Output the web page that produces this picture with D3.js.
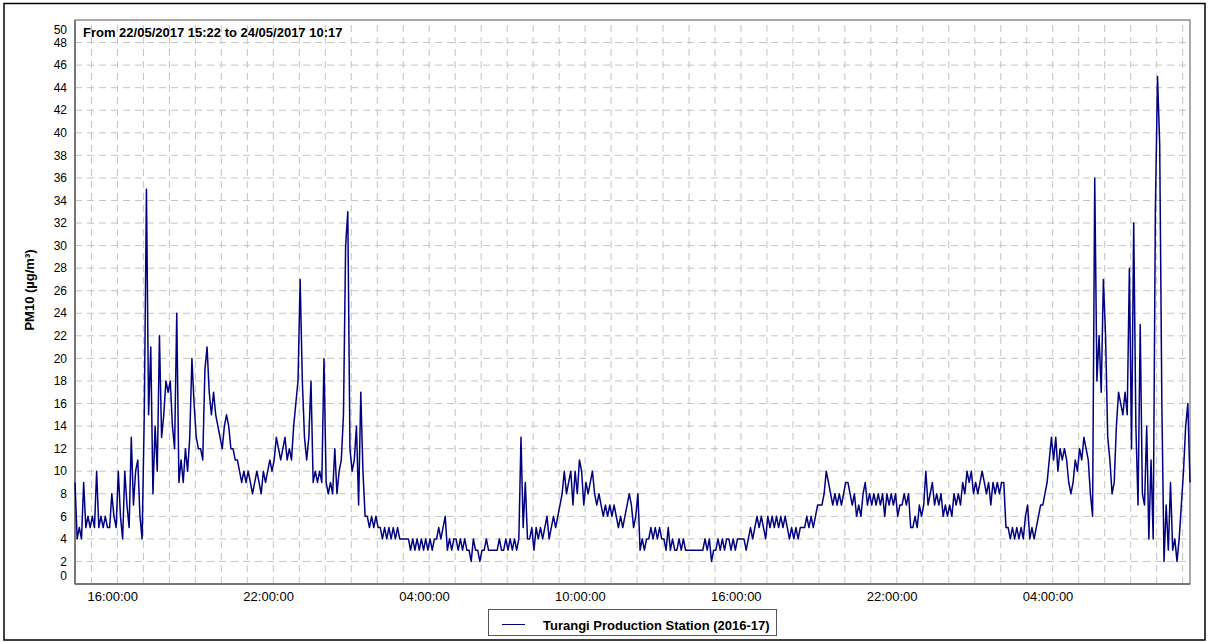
<!DOCTYPE html>
<html>
<head>
<meta charset="utf-8">
<script src="https://cdn.jsdelivr.net/npm/d3@7"></script>
<style>
  body { margin: 0; background: #fff; }
  svg { display: block; font-family: Arial, "Liberation Sans", sans-serif; }
</style>
</head>
<body>
<div class="chart"></div>
<script>
var svgWidth = 1208;
var svgHeight = 642;

var margin = { top: 20, right: 18, bottom: 58, left: 75 };
var width = svgWidth - margin.left - margin.right;
var height = svgHeight - margin.top - margin.bottom;

// data: PM10, one reading every 5 minutes from 22/05/2017 15:22
var startTime = new Date(2017, 4, 22, 15, 22);
var endTime = new Date(2017, 4, 24, 10, 17);
var stepMinutes = 5;
var pm10 = [
  9,4,5,4,9,5,6,5,6,5, 10,5,6,5,6,5,5,8,6,5,
  10,6,4,10,7,5,13,7,10,11, 6,4,15,35,15,21,8,14,10,22,
  13,15,18,17,18,14,12,24,9,11, 9,12,10,13,20,16,13,12,12,11,
  19,21,17,15,17,15,14,13,12,14, 15,14,12,12,11,11,10,9,10,9,
  10,9,8,9,10,9,8,10,
  9,10,11,10,11,13,12,11,12,13, 11,12,11,14,16,18,27,18,13,11,
  13,18,9,10,9,10,9,20,9,8, 9,8,12,8,10,11,15,30,33,12,
  10,11,14,7,17,10,6,6,5,6, 5,6,5,5,4,5,4,5,4,5,
  4,5,4,4,4,4,4,3,4,3, 4,3,4,3,4,3,4,3,4,4,
  5,4,5,6,3,4,3,4,
  4,3,4,3,4,3,3,2,4,3, 3,2,3,3,4,3,3,3,3,3,
  4,3,3,4,3,4,3,4,3,4, 13,5,9,4,4,5,3,5,4,5,
  4,5,6,4,5,6,5,6,7,8, 10,8,9,10,7,10,8,11,10,7,
  9,8,9,10,8,7,8,7,6,7, 6,7,6,7,6,5,6,5,6,7,
  8,7,5,6,8,3,4,3,
  4,4,5,4,5,4,5,4,4,3, 5,3,4,3,3,4,3,4,3,3,
  3,3,3,3,3,3,3,4,3,4, 2,3,3,4,3,4,3,4,4,3,
  4,3,4,4,4,4,3,4,5,4, 5,6,5,6,5,4,6,5,6,5,
  6,5,6,5,6,5,4,5,4,5, 4,5,5,5,6,5,6,5,6,7,
  7,7,8,10,9,8,7,
  8,7,8,7,8,9,9,8,7,8, 6,7,6,8,9,7,8,7,8,7,
  8,7,8,6,8,7,8,7,8,6, 7,7,8,7,8,5,5,6,5,7,
  6,7,10,7,8,9,7,8,7,8, 6,7,6,7,6,8,7,8,7,9,
  8,10,9,10,8,9,8,9,10,9, 8,9,7,9,8,9,8,9,9,5,
  5,4,5,4,5,4,5,4,
  6,7,4,5,4,5,6,7,7,8, 9,11,13,11,13,10,12,11,12,11,
  9,8,9,11,10,12,11,13,12,11, 8,6,36,18,22,17,27,22,13,11,
  8,9,14,17,16,15,17,15,28,12, 32,14,7,23,8,7,14,4,11,4,
  33,45,39,16,2,7,3,9,3,4, 2,4,7,10,14,16,9
];

var yTicks = d3.range(0, 51, 2);
var labelHours = [16, 22, 4, 10];
var titleText = "From 22/05/2017 15:22 to 24/05/2017 10:17";
var seriesName = "Turangi Production Station (2016-17)";
var yTitle = "PM10 (µg/m³)";

var readings = pm10.map(function(v, i) {
  return { time: d3.timeMinute.offset(startTime, i * stepMinutes), value: v };
});

var svg = d3.select(".chart")
  .append("svg")
  .attr("width", svgWidth)
  .attr("height", svgHeight);

// outer frame
svg.append("rect")
  .attr("x", 4).attr("y", 3.5)
  .attr("width", 1201).attr("height", 636.5)
  .attr("fill", "none")
  .attr("stroke", "#000")
  .attr("stroke-width", 1.5);

var chartGroup = svg.append("g")
  .attr("transform", `translate(${margin.left}, ${margin.top})`);

var xTimeScale = d3.scaleTime()
  .domain([startTime, endTime])
  .range([0, width]);

var yLinearScale = d3.scaleLinear()
  .domain([0, 50])
  .range([height, 0]);

// grid
var hourTicks = xTimeScale.ticks(d3.timeHour.every(1));
chartGroup.append("g")
  .selectAll("line")
  .data(hourTicks)
  .enter()
  .append("line")
  .attr("x1", d => xTimeScale(d))
  .attr("x2", d => xTimeScale(d))
  .attr("y1", height)
  .attr("y2", 0)
  .attr("stroke", "#c4c4c4")
  .attr("stroke-dasharray", "7,5");

chartGroup.append("g")
  .selectAll("line")
  .data(yTicks.filter(d => d > 0 && d < 50))
  .enter()
  .append("line")
  .attr("x1", 0)
  .attr("x2", width)
  .attr("y1", d => yLinearScale(d))
  .attr("y2", d => yLinearScale(d))
  .attr("stroke", "#c4c4c4")
  .attr("stroke-dasharray", "7,5");

// plot frame
chartGroup.append("rect")
  .attr("width", width)
  .attr("height", height)
  .attr("fill", "none")
  .attr("stroke", "#555")
  .attr("stroke-width", 1);

chartGroup.append("line")
  .attr("x1", 0).attr("x2", 0)
  .attr("y1", 0).attr("y2", height)
  .attr("stroke", "#777").attr("stroke-width", 2);
chartGroup.append("line")
  .attr("x1", 0).attr("x2", width)
  .attr("y1", height).attr("y2", height)
  .attr("stroke", "#777").attr("stroke-width", 2);

// y tick labels (end labels pulled inside like the original)
chartGroup.append("g")
  .selectAll("text")
  .data(yTicks)
  .enter()
  .append("text")
  .attr("x", -8)
  .attr("y", function(d) {
    var y = yLinearScale(d);
    if (d === 50) return y + 10;
    if (d === 0) return y - 8;
    return y;
  })
  .attr("dy", "0.35em")
  .attr("text-anchor", "end")
  .attr("font-size", "12px")
  .attr("fill", "#000")
  .text(d => d);

// x tick labels, no label at the last (10:00) hour as in the original
var labelTicks = hourTicks.filter(d => labelHours.indexOf(d.getHours()) >= 0 &&
  xTimeScale(d) + 60 < width);
chartGroup.append("g")
  .selectAll("text")
  .data(labelTicks)
  .enter()
  .append("text")
  .attr("x", d => xTimeScale(d) - 4)
  .attr("y", height + 17)
  .attr("font-size", "13px")
  .attr("fill", "#000")
  .text(d => d3.timeFormat("%H:%M:%S")(d));

// series line
var line = d3.line()
  .x(d => xTimeScale(d.time))
  .y(d => yLinearScale(d.value));

chartGroup.append("path")
  .datum(readings)
  .attr("d", line)
  .attr("fill", "none")
  .attr("stroke", "#000080")
  .attr("stroke-width", 1.5)
  .attr("stroke-linejoin", "round");

// title inside plot
chartGroup.append("text")
  .attr("x", 8)
  .attr("y", 17)
  .attr("font-size", "13px")
  .attr("font-weight", "bold")
  .text(titleText);

// y axis title
svg.append("text")
  .attr("transform", "rotate(-90)")
  .attr("x", -290)
  .attr("y", 34)
  .attr("text-anchor", "middle")
  .attr("font-size", "13px")
  .attr("font-weight", "bold")
  .text(yTitle);

// legend
var legend = svg.append("g");
legend.append("rect")
  .attr("x", 488.5).attr("y", 609.5)
  .attr("width", 288).attr("height", 26)
  .attr("fill", "#fff")
  .attr("stroke", "#555");
legend.append("line")
  .attr("x1", 502).attr("x2", 525)
  .attr("y1", 624.5).attr("y2", 624.5)
  .attr("stroke", "#000080").attr("stroke-width", 1);
legend.append("text")
  .attr("x", 543).attr("y", 630)
  .attr("font-size", "13px")
  .attr("font-weight", "bold")
  .text(seriesName);
</script>
</body>
</html>
